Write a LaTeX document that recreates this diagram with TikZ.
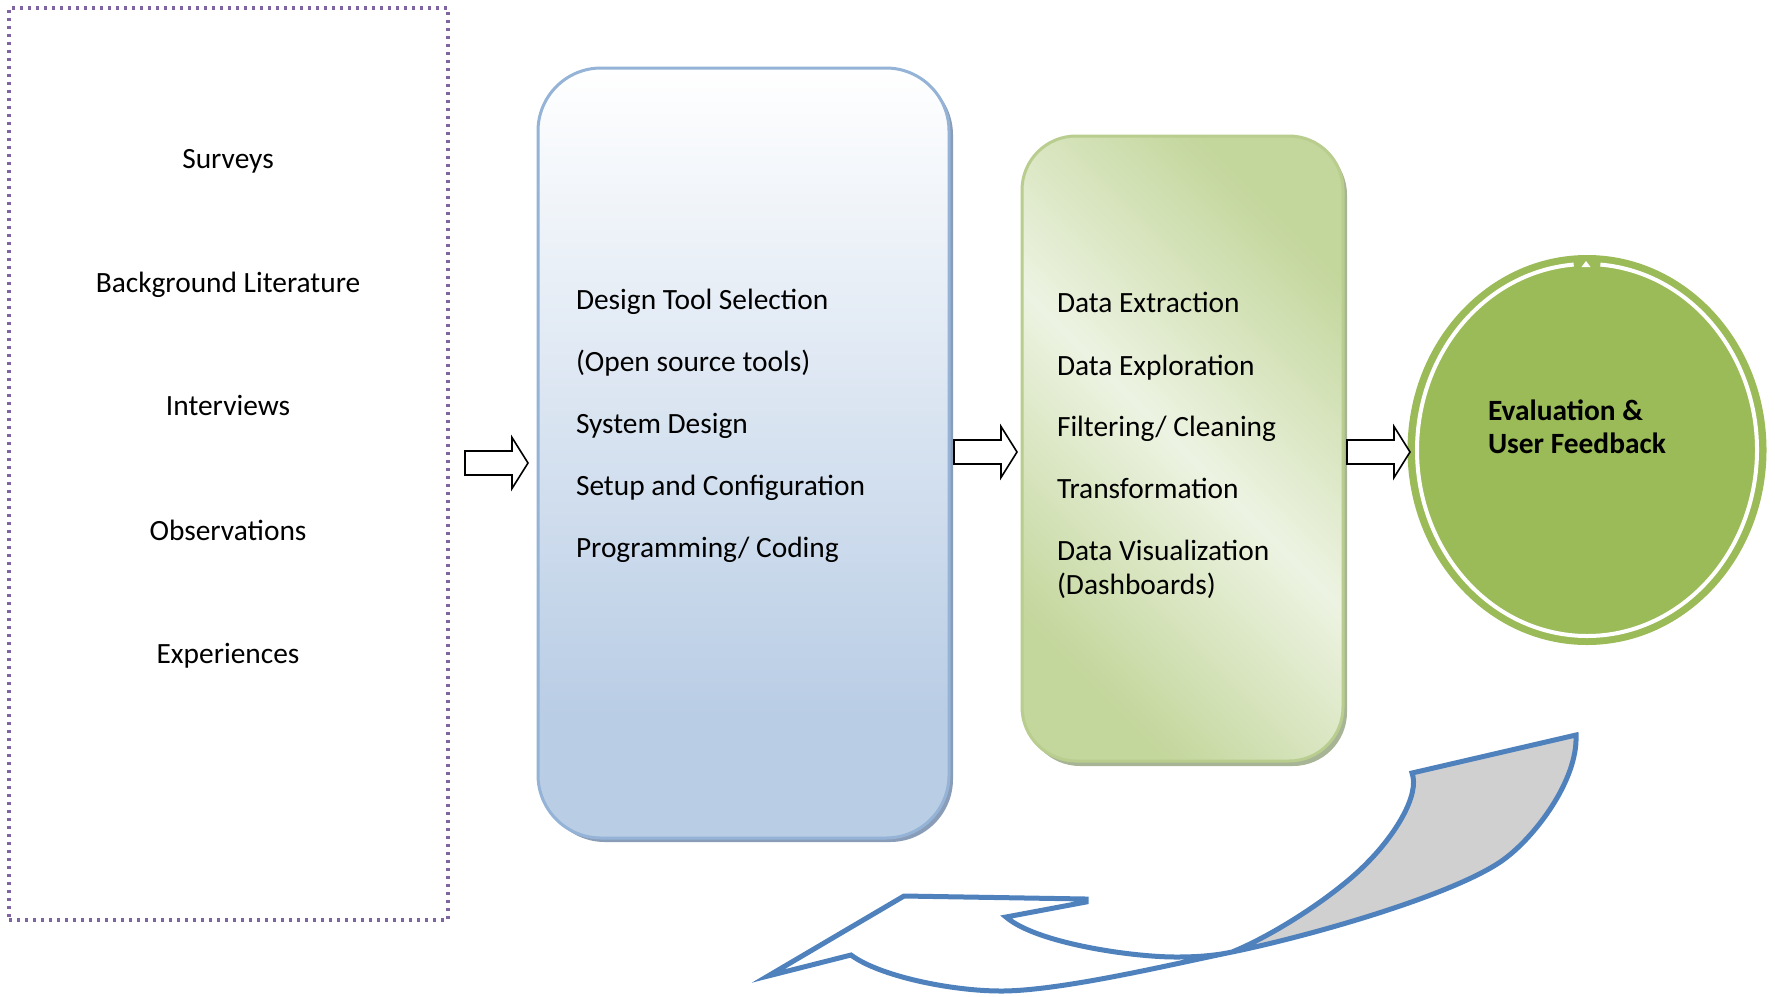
\documentclass[tikz,border=0pt]{standalone}
\usepackage{fontspec}
\setmainfont{Carlito}
\usetikzlibrary{calc,shapes.geometric,shadows}

\definecolor{srcpurple}{HTML}{8064A2}
\definecolor{blueedge}{HTML}{94B3D6}
\definecolor{bluefill}{HTML}{B9CDE5}
\definecolor{blueshade}{HTML}{8A9DB8}
\definecolor{greenedge}{HTML}{B8CD8E}
\definecolor{greenlight}{HTML}{EDF3E2}
\definecolor{greendark}{HTML}{C3D69B}
\definecolor{greenshade}{HTML}{A7B496}
\definecolor{evalgreen}{HTML}{9BBB59}
\definecolor{loopblue}{HTML}{4F81BD}
\definecolor{loopgray}{HTML}{D0D0D0}

% fill of the development stage: pale blue at the foot fading to white at the top
\pgfdeclareverticalshading{bluegrad}{100bp}{color(0bp)=(bluefill); color(33bp)=(bluefill); color(75bp)=(white); color(100bp)=(white)}
% fill of the data stage: light band along one diagonal, darker towards the other corners
\pgfdeclarehorizontalshading{greengrad}{100bp}{color(0bp)=(greendark); color(25bp)=(greendark); color(50bp)=(greenlight); color(75bp)=(greendark); color(100bp)=(greendark)}

% white block arrow pointing right, starting at the given coordinate
\newcommand{\blockarrow}[1]{%
  \draw[blockarr] ($(#1)+(0,-12)$) -- ++(47,0) -- ++(0,-13.5) -- ++(16,25.5)
    -- ++(-16,25.5) -- ++(0,-13.5) -- ++(-47,0) -- cycle;}

\begin{document}
\begin{tikzpicture}[x=0.5pt,y=-0.5pt,
  txt/.style={font=\fontsize{14.7pt}{17pt}\selectfont, inner sep=0pt, outer sep=0pt},
  srcbox/.style={draw=srcpurple, line width=1.65pt, dash pattern=on 1.65pt off 2.35pt,
    minimum width=219.5pt, minimum height=456pt, inner sep=0pt, outer sep=0pt},
  stagebox/.style={line width=1.5pt, inner sep=0pt, outer sep=0pt},
  blockarr/.style={draw=black, fill=white, line width=0.8pt, line join=miter},
  loopline/.style={draw=loopblue, line width=2.5pt, line join=miter, miter limit=12}]

\useasboundingbox (0,0) rectangle (1775,996);

% sources of requirements
\node[srcbox] (src) at (228.5,464) {};
\node[txt, anchor=base] (s1) at (228,168) {Surveys};
\node[txt, anchor=base] (s2) at (228,292) {Background Literature};
\node[txt, anchor=base] (s3) at (228,415) {Interviews};
\node[txt, anchor=base] (s4) at (228,540) {Observations};
\node[txt, anchor=base] (s5) at (228,663) {Experiences};

% development stage
\node[stagebox, draw=blueedge, shading=bluegrad, rounded corners=31.5pt,
  drop shadow={shadow xshift=2pt, shadow yshift=-2pt, fill=blueshade, opacity=1},
  minimum width=205.5pt, minimum height=385pt] (build) at (743.5,453) {};
\node[txt, anchor=base west] (b1) at (576,309) {Design Tool Selection};
\node[txt, anchor=base west] (b2) at (576,371) {(Open source tools)};
\node[txt, anchor=base west] (b3) at (576,433) {System Design};
\node[txt, anchor=base west] (b4) at (576,495) {Setup and Configuration};
\node[txt, anchor=base west] (b5) at (576,557) {Programming/ Coding};

% data stage
\node[stagebox, draw=greenedge, shading=greengrad, shading angle=45, rounded corners=27pt,
  drop shadow={shadow xshift=2pt, shadow yshift=-2.5pt, fill=greenshade, opacity=1},
  minimum width=160.5pt, minimum height=312.5pt] (clean) at (1182.5,448.5) {};
\node[txt, anchor=base west] (g1) at (1057,312) {Data Extraction};
\node[txt, anchor=base west] (g2) at (1057,375) {Data Exploration};
\node[txt, anchor=base west] (g3) at (1057,436) {Filtering/ Cleaning};
\node[txt, anchor=base west] (g4) at (1057,498) {Transformation};
\node[txt, anchor=base west] (g5) at (1057,560) {Data Visualization};
\node[txt, anchor=base west] (g6) at (1057,594) {(Dashboards)};

% evaluation stage
\node[ellipse, fill=evalgreen, minimum width=179.5pt, minimum height=195pt,
  inner sep=0pt, outer sep=0pt] (eval) at (1587,450) {};
\draw[white, line width=2pt] ($(eval.center)+(-85.5:170 and 186)$)
  arc[start angle=-85.5, end angle=265.5, x radius=170, y radius=186];
\fill[white] ($(eval.center)+(-1,-189)$) -- ($(eval.center)+(3.5,-183)$)
  -- ($(eval.center)+(-5.5,-183)$) -- cycle;
\node[txt, font=\fontsize{14.7pt}{17pt}\selectfont\bfseries, anchor=base west] (e1) at (1488,420) {Evaluation \&};
\node[txt, font=\fontsize{14.7pt}{17pt}\selectfont\bfseries, anchor=base west] (e2) at (1488,453) {User Feedback};

% flow between the stages
\coordinate (a1) at ($(src.east)+(17,-1)$);
\coordinate (a2) at ($(build.east)+(5,-1)$);
\coordinate (a3) at ($(clean.east)+(4,3.5)$);
\blockarrow{a1}
\blockarrow{a2}
\blockarrow{a3}

% feedback loop: twisted ribbon arrow returning to the left
\coordinate (lpA) at (1412,773);
\coordinate (lpB) at (1576,735);
\coordinate (lpM) at (1503,860);
\coordinate (lpT) at (1232,952);
\coordinate (lpBot) at (1001,991);
\coordinate (lpH) at (851,955);
\coordinate (lpTip) at (768,976);
\coordinate (lpTop) at (904,896);
\coordinate (lpTR) at (1086,899);
\coordinate (lpTS) at (1086,902);
\coordinate (lpN) at (1006,917);
\coordinate (lpQ) at (1176,957);
\coordinate (lpR) at (1367,863);

\fill[loopgray] (lpB) .. controls (1578,780) and (1535,837) .. (lpM)
  .. controls (1454,895) and (1310,936) .. (lpT)
  .. controls (1274,935) and (1336,895) .. (lpR)
  .. controls (1395,835) and (1420,795) .. (lpA) -- cycle;

\draw[loopline] (lpA) -- (lpB)
  .. controls (1578,780) and (1535,837) .. (lpM)
  .. controls (1454,895) and (1310,936) .. (lpT)
  .. controls (1173,964) and (1061,991) .. (lpBot)
  .. controls (951,991) and (879,976) .. (lpH)
  -- (lpTip) -- (lpTop) -- (lpTR) -- (lpTS) -- (lpN)
  .. controls (1036,943) and (1131,957) .. (lpQ)
  .. controls (1195,957) and (1213,956) .. (lpT)
  .. controls (1274,935) and (1336,895) .. (lpR)
  .. controls (1395,835) and (1420,795) .. (lpA) -- cycle;

\end{tikzpicture}
\end{document}
